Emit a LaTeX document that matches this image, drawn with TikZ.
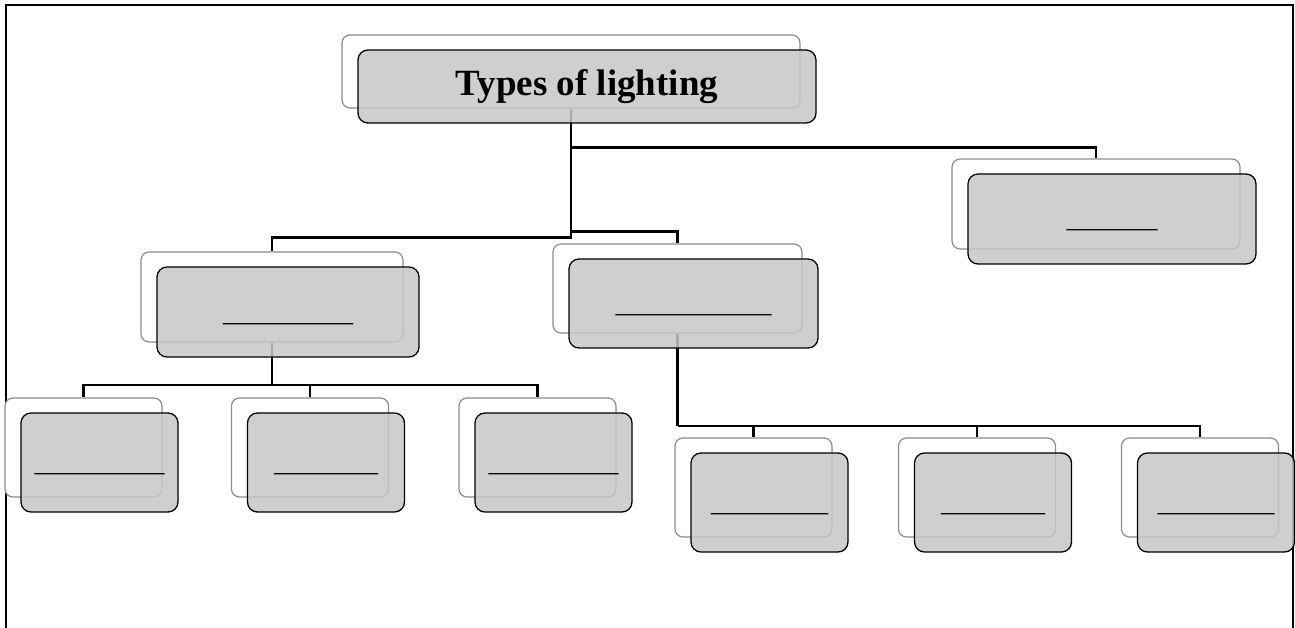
\documentclass[tikz,border=0pt]{standalone}
\usepackage{fontspec}
\setmainfont{Liberation Serif}
\usetikzlibrary{calc}
\tikzset{
  frameline/.style={line width=2.4pt, draw=black},
  back/.style={draw=black!45, fill=white, line width=1.2pt, rounded corners=8pt, inner sep=0pt},
  front/.style={draw=black, fill=black!22, fill opacity=0.85, text opacity=1,
                line width=1.3pt, rounded corners=10pt, inner sep=0pt},
  blank/.style={font=\fontsize{26}{28}\selectfont, text height=18pt, text depth=0pt},
  title/.style={font=\fontsize{37}{40}\selectfont\bfseries},
  conn/.style={draw=black, line width=2.2pt},
  wide/.style n args={2}{minimum width=#1pt, minimum height=#2pt},
}
\begin{document}
\begin{tikzpicture}[x=1pt,y=-1pt]
\useasboundingbox (0,0) rectangle (1295,628);

% outer frame, open at the bottom
\draw[frameline] (6,628) -- (6,5) -- (1293,5) -- (1293,628);

% back plates
\node[back, wide={458}{73}] (root-b) at (571,71.5) {};
\node[back, wide={262}{90}] (a-b) at (272,297) {};
\node[back, wide={249}{89}] (b-b) at (677.5,288.5) {};
\node[back, wide={288}{90}] (c-b) at (1096,204) {};
\node[back, wide={157}{99}] (a1-b) at (83.5,447.5) {};
\node[back, wide={157}{99}] (a2-b) at (310,447.5) {};
\node[back, wide={157}{99}] (a3-b) at (537.5,447.5) {};
\node[back, wide={157}{99}] (b1-b) at (753.5,487.5) {};
\node[back, wide={157}{99}] (b2-b) at (977,487.5) {};
\node[back, wide={157}{99}] (b3-b) at (1200,487.5) {};

% connectors
\coordinate (rbus-c) at ($(root-b.south)+(0,39)$);
\coordinate (rbus-b) at ($(root-b.south)+(0,123)$);
\coordinate (rbus-a) at ($(root-b.south)+(0,129)$);
\draw[conn] (root-b.south) -- (rbus-a) -| (a-b.north);
\draw[conn] (rbus-c) -| (c-b.north);
\draw[conn] (rbus-b) -| (b-b.north);

\coordinate (abus) at ($(a-b.south)+(0,42)$);
\draw[conn] (a-b.south) -- (abus);
\draw[conn] (abus) -| (a1-b.north);
\draw[conn] (abus) -| (a2-b.north);
\draw[conn] (abus) -| (a3-b.north);

\coordinate (bbus) at ($(b-b.south)+(0,92)$);
\draw[conn] (b-b.south) -- (bbus);
\draw[conn] (bbus) -| (b1-b.north);
\draw[conn] (bbus) -| (b2-b.north);
\draw[conn] (bbus) -| (b3-b.north);

% front plates with their texts
\node[front, wide={458}{73}, title] (root) at ($(root-b)+(16,15)$) {Types of lighting};
\node[front, wide={262}{90}, blank] (a) at ($(a-b)+(16,15)$) {\_\_\_\_\_\_\_\_\_\_};
\node[front, wide={249}{89}, blank] (b) at ($(b-b)+(16,15)$) {\_\_\_\_\_\_\_\_\_\_\_\_};
\node[front, wide={288}{90}, blank] (c) at ($(c-b)+(16,15)$) {\_\_\_\_\_\_\_};
\node[front, wide={157}{99}, blank] (a1) at ($(a1-b)+(16,15)$) {\_\_\_\_\_\_\_\_\_\_};
\node[front, wide={157}{99}, blank] (a2) at ($(a2-b)+(16,15)$) {\_\_\_\_\_\_\_\_};
\node[front, wide={157}{99}, blank] (a3) at ($(a3-b)+(16,15)$) {\_\_\_\_\_\_\_\_\_\_};
\node[front, wide={157}{99}, blank] (b1) at ($(b1-b)+(16,15)$) {\_\_\_\_\_\_\_\_\_};
\node[front, wide={157}{99}, blank] (b2) at ($(b2-b)+(16,15)$) {\_\_\_\_\_\_\_\_};
\node[front, wide={157}{99}, blank] (b3) at ($(b3-b)+(16,15)$) {\_\_\_\_\_\_\_\_\_};
\end{tikzpicture}
\end{document}
